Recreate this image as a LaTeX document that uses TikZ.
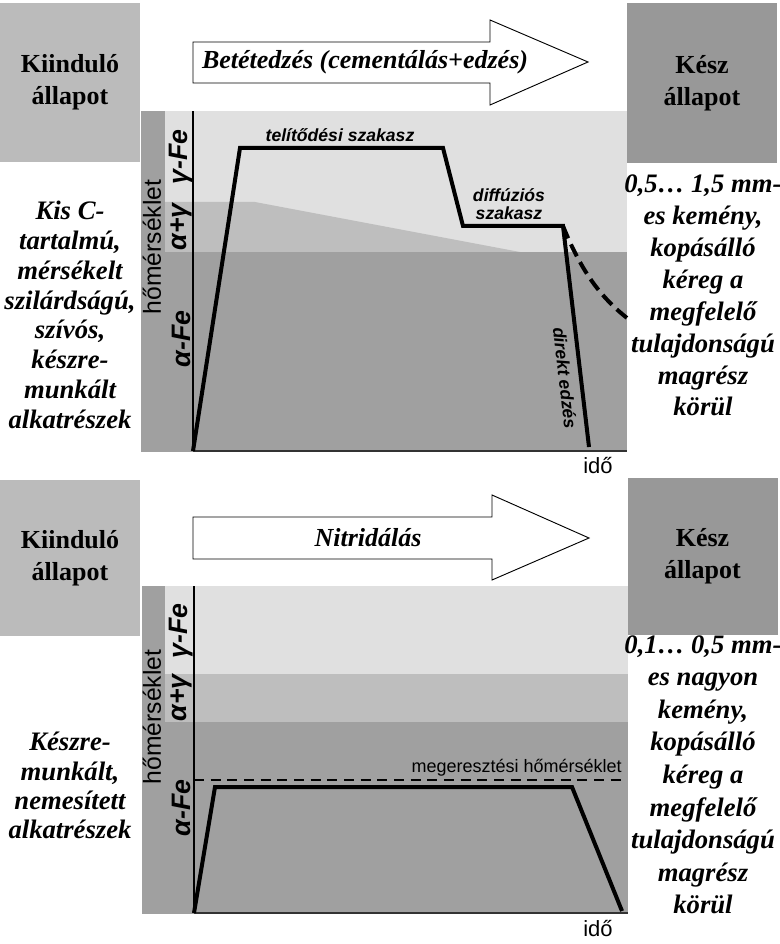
\documentclass[tikz,border=0pt]{standalone}
\usepackage{fontspec}
\setmainfont{Liberation Serif}
\newfontfamily\arialf{Liberation Sans}
\definecolor{boxL}{gray}{0.733}
\definecolor{boxR}{gray}{0.595}
\definecolor{bgLight}{gray}{0.878}
\definecolor{bgMid}{gray}{0.745}
\definecolor{bgDark}{gray}{0.627}
\definecolor{axisdark}{gray}{0.2}
\begin{document}
\begin{tikzpicture}[x=0.75pt,y=-0.75pt,
  statebox/.style={inner sep=0pt, align=center, minimum width=105pt,
    font=\fontsize{19.5}{24}\selectfont\bfseries},
  desc/.style={inner sep=0pt},
  proc/.style={inner sep=0pt, font=\fontsize{19.5}{24}\selectfont\bfseries\itshape},
  procarrow/.style={draw=black, line width=0.7pt, fill=white},
  phase/.style={inner sep=0pt, font=\arialf\fontsize{20}{24}\selectfont\bfseries\itshape, rotate=90},
  tempaxis/.style={inner sep=0pt, font=\arialf\fontsize{18.5}{22}\selectfont, rotate=90},
  stage/.style={inner sep=0pt, align=center, font=\arialf\fontsize{13.2}{14}\selectfont\bfseries\itshape},
  timelabel/.style={inner sep=0pt, font=\arialf\fontsize{16.5}{20}\selectfont},
  curve/.style={line width=3pt, line join=miter},
  yaxis/.style={line width=1.1pt},
  xaxis/.style={line width=1.5pt, draw=axisdark}
]
\useasboundingbox (0,0) rectangle (780,944);

% ================= TOP SECTION =================
\node[statebox, fill=boxL, minimum height=119.25pt] (start1) at (70,82.5) {Kiinduló\\állapot};
\node[statebox, fill=boxR, minimum width=112.5pt, minimum height=120pt] (end1) at (702,83) {Kész\\állapot};

\draw[procarrow] (193,42) -- (490,42) -- (490,20) -- (588,62) -- (490,105) -- (490,83) -- (193,83) -- cycle;
\node[proc] (proc1) at (365,62) {Betétedzés (cementálás+edzés)};

% chart background
\fill[bgLight] (141,111) rectangle (627,452);
\fill[bgMid] (165,202) -- (255,202) -- (520,252) -- (165,252) -- cycle;
\fill[bgDark] (165,252) rectangle (627,452);
\fill[bgDark] (141,111) rectangle (165,452);
\coordinate (o1) at (193,451);
\coordinate (ytop1) at (193,111);
\coordinate (xend1) at (627,451);
\draw[yaxis] (o1) -- (ytop1);
\draw[xaxis] (o1) -- (xend1);

\node[tempaxis] (temp1) at (152,247) {hőmérséklet};
\node[phase] (gam1) at (181,157) {γ-Fe};
\node[phase] (ag1) at (181,227) {α+γ};
\node[phase] (alp1) at (181,339) {α-Fe};

\draw[curve] (193,451) -- (240,148) -- (443,148) -- (463,226) -- (563,226) -- (589,447);
\draw[curve, dash pattern=on 10pt off 5pt] (563,226) .. controls (580,268) and (598,295) .. (627,318);

\node[stage] (sat1) at (340,135) {telítődési szakasz};
\node[stage, font=\arialf\fontsize{13.2}{13.5}\selectfont\bfseries\itshape] (diff1) at (509,204) {diffúziós\\szakasz};
\node[stage, rotate=-83.3] (quench1) at (565,378) {direkt edzés};
\node[timelabel] (time1) at (598,466) {idő};

\node[desc] (in1) at (70,318)
  {\fontsize{20}{22.3}\selectfont\bfseries\itshape
   \begin{tabular}{@{}c@{}}Kis C-\\tartalmú,\\mérsékelt\\szilárdságú,\\szívós,\\készre-\\munkált\\alkatrészek\end{tabular}};
\node[desc] (out1) at (703,298)
  {\fontsize{20}{23.9}\selectfont\bfseries\itshape
   \begin{tabular}{@{}c@{}}0,5… 1,5 mm-\\es kemény,\\kopásálló\\kéreg a\\megfelelő\\tulajdonságú\\magrész\\körül\end{tabular}};

% ================= BOTTOM SECTION =================
\node[statebox, fill=boxL, minimum height=117pt] (start2) at (70,558) {Kiinduló\\állapot};
\node[statebox, fill=boxR, minimum width=112.5pt, minimum height=117.75pt] (end2) at (702.5,556.5) {Kész\\állapot};

\draw[procarrow] (193,517) -- (492,517) -- (492,495) -- (589,538) -- (492,580) -- (492,559) -- (193,559) -- cycle;
\node[proc] (proc2) at (368,538) {Nitridálás};

\fill[bgLight] (142,586) rectangle (628,674);
\fill[bgMid] (165,674) rectangle (628,722);
\fill[bgDark] (165,722) rectangle (628,914);
\fill[bgDark] (142,586) rectangle (165,914);
\coordinate (o2) at (194,913);
\coordinate (ytop2) at (194,586);
\coordinate (xend2) at (628,913);
\draw[yaxis] (o2) -- (ytop2);
\draw[xaxis] (o2) -- (xend2);

\node[tempaxis] (temp2) at (152,717) {hőmérséklet};
\node[phase] (gam2) at (181,631) {γ-Fe};
\node[phase] (ag2) at (181,698) {α+γ};
\node[phase] (alp2) at (181,808) {α-Fe};

\coordinate (tl0) at (194,780);
\coordinate (tl1) at (622,780);
\draw[line width=1pt, dash pattern=on 7.5pt off 5pt] (tl0) -- (tl1);
\node[timelabel, anchor=east, font=\arialf\fontsize{13.5}{16}\selectfont] (temper) at (622,768) {megeresztési hőmérséklet};

\draw[curve] (194,913) -- (215,787) -- (572,787) -- (622,911);
\node[timelabel] (time2) at (598,928) {idő};

\node[desc] (in2) at (70,789)
  {\fontsize{20}{22}\selectfont\bfseries\itshape
   \begin{tabular}{@{}c@{}}Készre-\\munkált,\\nemesített\\alkatrészek\end{tabular}};
\node[desc] (out2) at (703,777)
  {\fontsize{20}{24.4}\selectfont\bfseries\itshape
   \begin{tabular}{@{}c@{}}0,1… 0,5 mm-\\es nagyon\\kemény,\\kopásálló\\kéreg a\\megfelelő\\tulajdonságú\\magrész\\körül\end{tabular}};
\end{tikzpicture}
\end{document}
